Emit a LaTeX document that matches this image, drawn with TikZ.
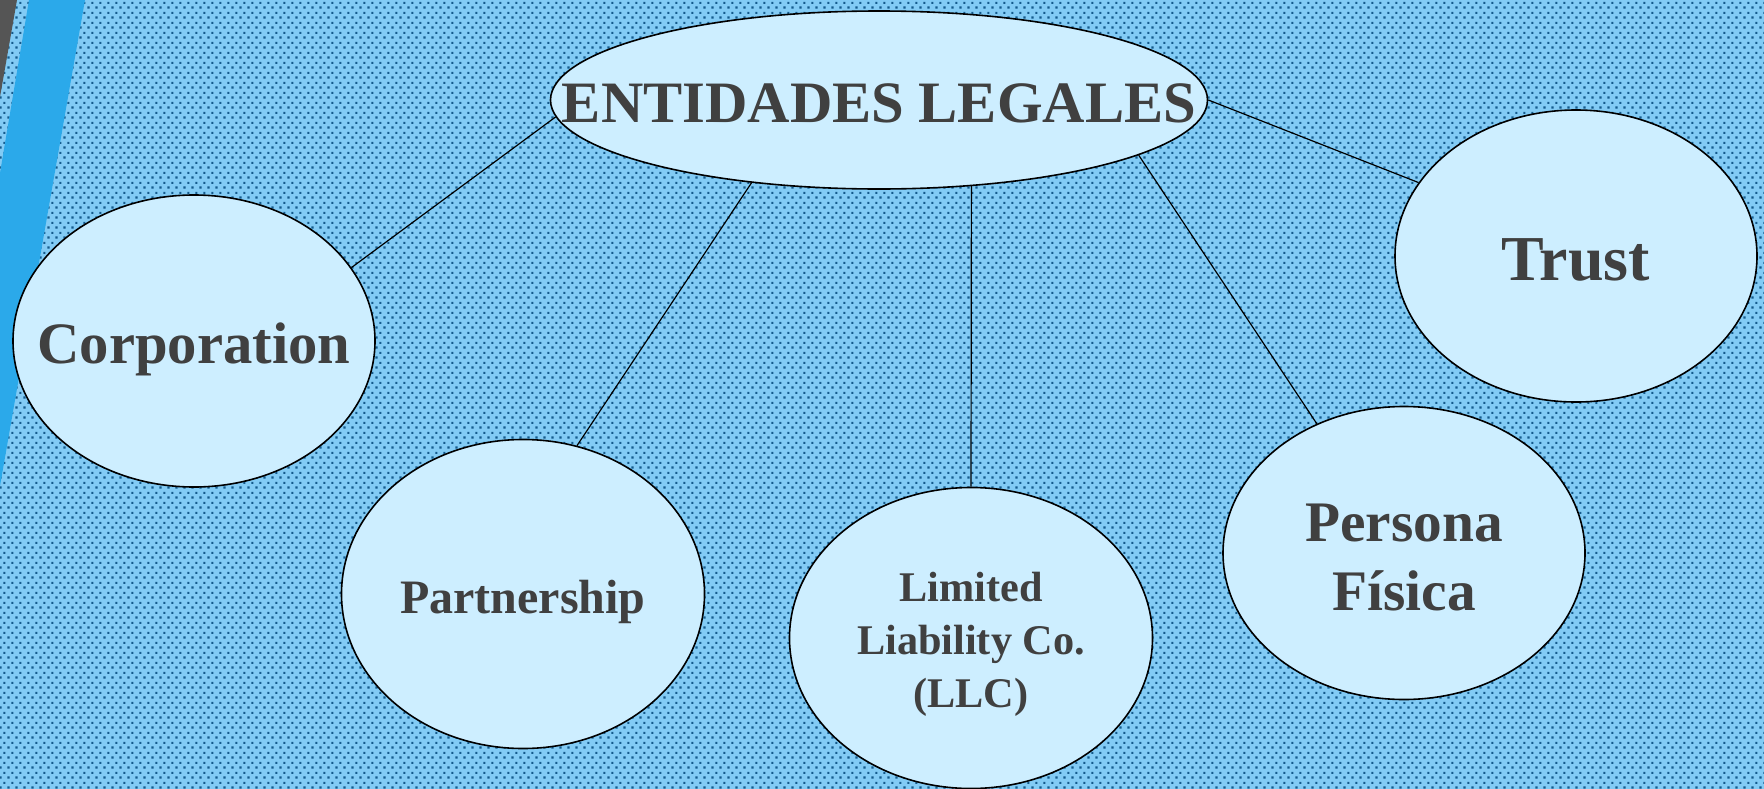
\documentclass[tikz,border=0pt]{standalone}
\usepackage{fontspec}
\setmainfont{Liberation Serif}
\usetikzlibrary{shapes.geometric,patterns.meta}

\definecolor{bgblue}{HTML}{82CBF5}
\definecolor{dotblue}{HTML}{145A8C}
\definecolor{stripeblue}{HTML}{2BA9EA}
\definecolor{cornergray}{HTML}{555555}
\definecolor{entfill}{HTML}{CDEEFF}
\definecolor{txtgray}{HTML}{404040}

\tikzdeclarepattern{
  name=bgdots,
  type=uncolored,
  bottom left={(0pt,0pt)},
  top right={(6.25pt,7.5pt)},
  tile size={(6.25pt,7.5pt)},
  code={
    \fill (0.4pt,0.4pt) rectangle (2.1pt,2.1pt);
    \fill (3.525pt,4.15pt) rectangle (5.225pt,5.85pt);
  }
}

\tikzset{
  entity/.style 2 args={ellipse, draw=black, line width=1.2pt, fill=entfill,
    inner sep=0pt, minimum width=#1, minimum height=#2},
  enttext/.style={text=txtgray, anchor=base, inner sep=0pt, align=center,
    font=\bfseries\fontsize{44}{53}\selectfont},
  link/.style={line width=0.9pt}
}

\begin{document}
\begin{tikzpicture}[x=0.75pt,y=0.75pt,yscale=-1,xscale=1]
\useasboundingbox (0,0) rectangle (1764,789);

% background
\fill[bgblue] (0,0) rectangle (1764,789);
\fill[pattern=bgdots, pattern color=dotblue] (0,0) rectangle (1764,789);
\fill[stripeblue] (29,0) -- (85,0) -- (0,486) -- (0,173) -- cycle;
\fill[cornergray] (0,0) -- (17,0) -- (0,97) -- cycle;

% Ellipses
\node[entity={492.75pt}{133.5pt}] (legal) at (879,100) {};
\node[entity={271.5pt}{219pt}] (corp) at (194,341) {};
\node[entity={272.25pt}{231.75pt}] (part) at (523,594) {};
\node[entity={272.25pt}{225.75pt}] (llc) at (971,638) {};
\node[entity={271.5pt}{219.75pt}] (pers) at (1404,553) {};
\node[entity={271.5pt}{219pt}] (trust) at (1576,256) {};

% Straight Lines
\draw[link] (legal.183) -- (corp.25);
\draw[link] (legal.213) -- (part.70);
\draw[link] (legal.-43) -- (llc.north);
\draw[link] (legal.-12) -- (pers.124.5);
\draw[link] (legal.east) -- (trust.155);

% Text Nodes (base = last line)
\node[enttext] (legaltxt) at (879,122) {ENTIDADES LEGALES};
\node[enttext] (corptxt) at (194,363) {Corporation};
\node[enttext, font=\bfseries\fontsize{36}{43}\selectfont] (parttxt) at (523,613) {Partnership};
\node[enttext, font=\bfseries\fontsize{31.7}{39.4}\selectfont] (llctxt) at (971,707) {Limited\\Liability Co.\\(LLC)};
\node[enttext, font=\bfseries\fontsize{43}{51.75}\selectfont] (perstxt) at (1404,610) {Persona\\Física};
\node[enttext, font=\bfseries\fontsize{48}{58}\selectfont] (trusttxt) at (1576,280) {Trust};

\end{tikzpicture}
\end{document}
